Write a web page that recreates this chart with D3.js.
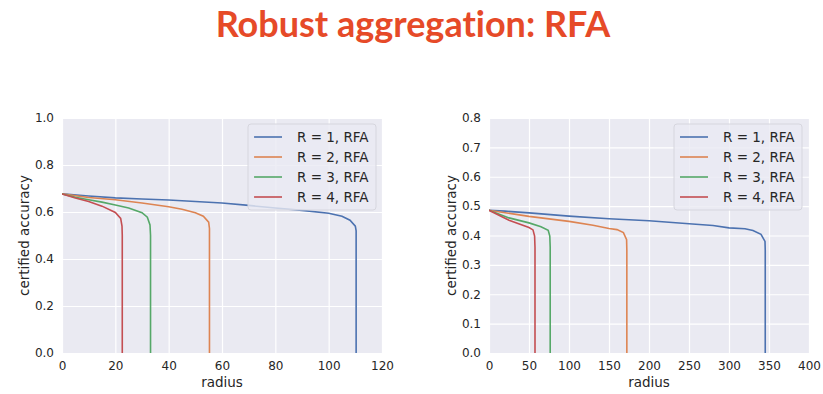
<!DOCTYPE html>
<html>
<head>
<meta charset="utf-8">
<script src="https://cdn.jsdelivr.net/npm/d3@7"></script>
<style>
  body { margin: 0; background: #fff; }
  text { font-family: "DejaVu Sans", sans-serif; fill: #262626; }
</style>
</head>
<body>
<div id="chart"></div>
<script>
const WIDTH = 823;
const HEIGHT = 394;

const title = 'Robust aggregation: RFA';
const seriesNames = ['R = 1, RFA', 'R = 2, RFA', 'R = 3, RFA', 'R = 4, RFA'];
const colors = ['#4C72B0', '#DD8452', '#55A868', '#C44E52'];

// left panel: [radius, certified accuracy]
const leftR1 = [[0, 0.677], [10, 0.668], [20, 0.66], [30, 0.655], [40, 0.651], [50, 0.645], [60, 0.638], [70, 0.628], [80, 0.617], [90, 0.607], [100, 0.595], [105, 0.582], [108, 0.565], [110, 0.54], [110.3, 0.52], [110.3, 0]];
const leftR2 = [[0, 0.677], [10, 0.662], [20, 0.652], [30, 0.638], [40, 0.622], [45, 0.612], [50, 0.597], [53, 0.582], [55, 0.557], [55.3, 0.53], [55.3, 0]];
const leftR3 = [[0, 0.677], [5, 0.663], [10, 0.652], [15, 0.642], [20, 0.63], [25, 0.617], [30, 0.597], [32, 0.578], [33, 0.545], [33.2, 0.5], [33.2, 0]];
const leftR4 = [[0, 0.677], [5, 0.66], [10, 0.645], [15, 0.625], [20, 0.598], [22, 0.573], [22.5, 0.54], [22.6, 0.5], [22.6, 0]];

// right panel
const rightR1 = [[0, 0.486], [20, 0.483], [50, 0.477], [100, 0.466], [150, 0.457], [200, 0.45], [250, 0.44], [280, 0.434], [300, 0.426], [320, 0.423], [330, 0.417], [340, 0.404], [345, 0.38], [345.3, 0.35], [345.3, 0]];
const rightR2 = [[0, 0.486], [50, 0.465], [100, 0.448], [130, 0.435], [150, 0.424], [160, 0.42], [168, 0.41], [172, 0.386], [172.3, 0.35], [172.3, 0]];
const rightR3 = [[0, 0.486], [25, 0.46], [50, 0.443], [65, 0.43], [74, 0.418], [76, 0.398], [76.5, 0.36], [76.5, 0]];
const rightR4 = [[0, 0.486], [25, 0.452], [50, 0.427], [55, 0.419], [57, 0.398], [57.5, 0.36], [57.5, 0]];

const leftXTicks = [0, 20, 40, 60, 80, 100, 120];
const leftYTicks = [0, 0.2, 0.4, 0.6, 0.8, 1.0];
const rightXTicks = [0, 50, 100, 150, 200, 250, 300, 350, 400];
const rightYTicks = [0, 0.1, 0.2, 0.3, 0.4, 0.5, 0.6, 0.7, 0.8];

const panels = [
    { id: 'l', left: 62, right: 382, xMax: 120, yMax: 1.0, xTicks: leftXTicks, yTicks: leftYTicks,
      series: [leftR1, leftR2, leftR3, leftR4], legendX: 248 },
    { id: 'r', left: 489, right: 809, xMax: 400, yMax: 0.8, xTicks: rightXTicks, yTicks: rightYTicks,
      series: [rightR1, rightR2, rightR3, rightR4], legendX: 674 }
];
const TOP = 118;
const BOTTOM = 353;

const svg = d3.select('#chart')
    .append('svg')
    .attr('width', WIDTH)
    .attr('height', HEIGHT);

// Title
svg.append('text')
    .attr('x', 413)
    .attr('y', 37)
    .attr('text-anchor', 'middle')
    .style('font-family', 'Lato, sans-serif')
    .style('font-weight', 'bold')
    .style('font-size', '36px')
    .style('font-variant-ligatures', 'none')
    .style('fill', '#E64A28')
    .text(title);

panels.forEach(p => {
    const x = d3.scaleLinear().domain([0, p.xMax]).range([p.left, p.right]);
    const y = d3.scaleLinear().domain([0, p.yMax]).range([BOTTOM, TOP]);
    const g = svg.append('g');

    g.append('clipPath').attr('id', 'clip-' + p.id)
        .append('rect')
        .attr('x', p.left).attr('y', TOP)
        .attr('width', p.right - p.left).attr('height', BOTTOM - TOP);

    // Background
    g.append('rect')
        .attr('x', p.left).attr('y', TOP)
        .attr('width', p.right - p.left).attr('height', BOTTOM - TOP)
        .attr('fill', '#EAEAF2');

    // Grid
    g.append('g')
        .attr('transform', `translate(0,${BOTTOM})`)
        .call(d3.axisBottom(x).tickValues(p.xTicks).tickSize(-(BOTTOM - TOP)).tickFormat(''))
        .call(a => a.select('.domain').remove())
        .call(a => a.selectAll('line').attr('stroke', '#fff').attr('stroke-width', 1.2));
    g.append('g')
        .attr('transform', `translate(${p.left},0)`)
        .call(d3.axisLeft(y).tickValues(p.yTicks).tickSize(-(p.right - p.left)).tickFormat(''))
        .call(a => a.select('.domain').remove())
        .call(a => a.selectAll('line').attr('stroke', '#fff').attr('stroke-width', 1.2));

    // Tick labels
    const xAxis = g.append('g')
        .attr('transform', `translate(0,${BOTTOM})`)
        .call(d3.axisBottom(x).tickValues(p.xTicks).tickSize(0).tickPadding(8).tickFormat(d3.format('d')));
    const yAxis = g.append('g')
        .attr('transform', `translate(${p.left},0)`)
        .call(d3.axisLeft(y).tickValues(p.yTicks).tickSize(0).tickPadding(8).tickFormat(d3.format('.1f')));
    [xAxis, yAxis].forEach(a => {
        a.select('.domain').remove();
        a.selectAll('text')
            .style('font-family', '"DejaVu Sans", sans-serif')
            .style('font-size', '12px')
            .attr('fill', '#262626');
    });

    // Axis labels
    g.append('text')
        .attr('x', (p.left + p.right) / 2)
        .attr('y', 387)
        .attr('text-anchor', 'middle')
        .style('font-size', '13.5px')
        .text('radius');
    g.append('text')
        .attr('transform', `translate(${p.left - 33},${(TOP + BOTTOM) / 2}) rotate(-90)`)
        .attr('text-anchor', 'middle')
        .style('font-size', '13.5px')
        .text('certified accuracy');

    // Lines
    const line = d3.line().x(d => x(d[0])).y(d => y(d[1]));
    g.append('g')
        .attr('clip-path', `url(#clip-${p.id})`)
        .selectAll('path')
        .data(p.series)
        .enter()
        .append('path')
        .attr('d', line)
        .attr('fill', 'none')
        .attr('stroke', (d, i) => colors[i])
        .attr('stroke-width', 1.6);

    // Legend
    const lg = g.append('g').attr('transform', `translate(${p.legendX},124)`);
    lg.append('rect')
        .attr('width', 128).attr('height', 86)
        .attr('rx', 3)
        .attr('fill', '#EAEAF2').attr('fill-opacity', 0.8)
        .attr('stroke', '#d6d6de');
    seriesNames.forEach((name, i) => {
        const row = lg.append('g').attr('transform', `translate(0,${13 + i * 20})`);
        row.append('line')
            .attr('x1', 6).attr('x2', 34)
            .attr('stroke', colors[i]).attr('stroke-width', 1.6);
        row.append('text')
            .attr('x', 49).attr('y', 5)
            .style('font-size', '13.5px')
            .text(name);
    });
});
</script>
</body>
</html>
